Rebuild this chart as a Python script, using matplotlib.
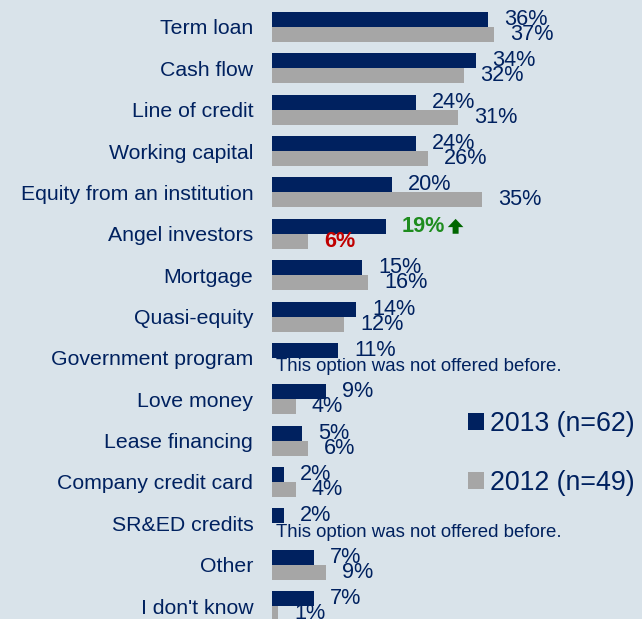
import numpy as np
import matplotlib
matplotlib.use("Agg")
import matplotlib.pyplot as plt

plt.rcParams['font.family'] = ['Liberation Sans', 'DejaVu Sans']

categories = ["Term loan", "Cash flow", "Line of credit", "Working capital",
              "Equity from an institution", "Angel investors", "Mortgage",
              "Quasi-equity", "Government program", "Love money",
              "Lease financing", "Company credit card", "SR&ED credits",
              "Other", "I don't know"]
vals_2013 = [36, 34, 24, 24, 20, 19, 15, 14, 11, 9, 5, 2, 2, 7, 7]
vals_2012 = [37, 32, 31, 26, 35, 6, 16, 12, None, 4, 6, 4, None, 9, 1]
series_names = ["2013 (n=62)", "2012 (n=49)"]
note = "This option was not offered before."

navy = "#00215F"
gray = "#A6A6A6"
bg = "#D9E3EA"

W, H, dpi = 642, 619, 100
fig = plt.figure(figsize=(W / dpi, H / dpi), dpi=dpi, facecolor=bg)
ax = fig.add_axes([272 / W, 0, 1 - 272 / W, 1])
ax.set_facecolor(bg)

pitch = 41.36   # px per row
pxper = 6.0     # px per percent
y = np.arange(len(categories))
bh = 15 / pitch

ax.barh(y - bh / 2, vals_2013, height=bh, color=navy, label=series_names[0])
v12 = [v if v is not None else 0 for v in vals_2012]
ax.barh(y + bh / 2, v12, height=bh, color=gray, label=series_names[1])

ax.set_xlim(0, (W - 272) / pxper)
ax.set_ylim((H - 27) / pitch, -27 / pitch)

fs = 15.6
for i, (a, b) in enumerate(zip(vals_2013, vals_2012)):
    if categories[i] == "Angel investors":
        ax.annotate(f"{a}%", (a, i - bh / 2), xytext=(16, 0), textcoords='offset pixels',
                    va='center', ha='left', fontsize=fs, fontweight='bold', color="#1E8C1E")
        ax.annotate(f"{b}%", (b, i + bh / 2), xytext=(16, 0), textcoords='offset pixels',
                    va='center', ha='left', fontsize=fs, fontweight='bold', color="#C00000")
        # little green up arrow
        ax.arrow(30.6, i - bh / 2 + 0.18, 0, -0.36, width=1.0, head_width=2.6,
                 head_length=0.2, length_includes_head=True, color="#006600", lw=0)
        continue
    ax.annotate(f"{a}%", (a, i - bh / 2), xytext=(16, 0), textcoords='offset pixels',
                va='center', ha='left', fontsize=fs, color=navy)
    if b is None:
        ax.text(4 / pxper, i + bh / 2 + 0.03, note, va='center', ha='left',
                fontsize=13.4, color=navy)
    else:
        ax.annotate(f"{b}%", (b, i + bh / 2), xytext=(16, 0), textcoords='offset pixels',
                    va='center', ha='left', fontsize=fs, color=navy)

ax.set_yticks(y)
ax.set_yticklabels(categories, fontsize=15.3, color=navy)
ax.tick_params(axis='y', length=0, pad=13.5)
ax.set_xticks([])
for s in ax.spines.values():
    s.set_visible(False)

leg = ax.legend(loc='upper left', bbox_to_anchor=(455 / W, 1 - 398 / H),
                bbox_transform=fig.transFigure, frameon=False, fontsize=19.3,
                handlelength=0.6, handleheight=0.6, handletextpad=0.2,
                labelspacing=1.2, borderpad=0)
for t in leg.get_texts():
    t.set_color(navy)

fig.savefig("out.png", dpi=dpi, facecolor=bg)
